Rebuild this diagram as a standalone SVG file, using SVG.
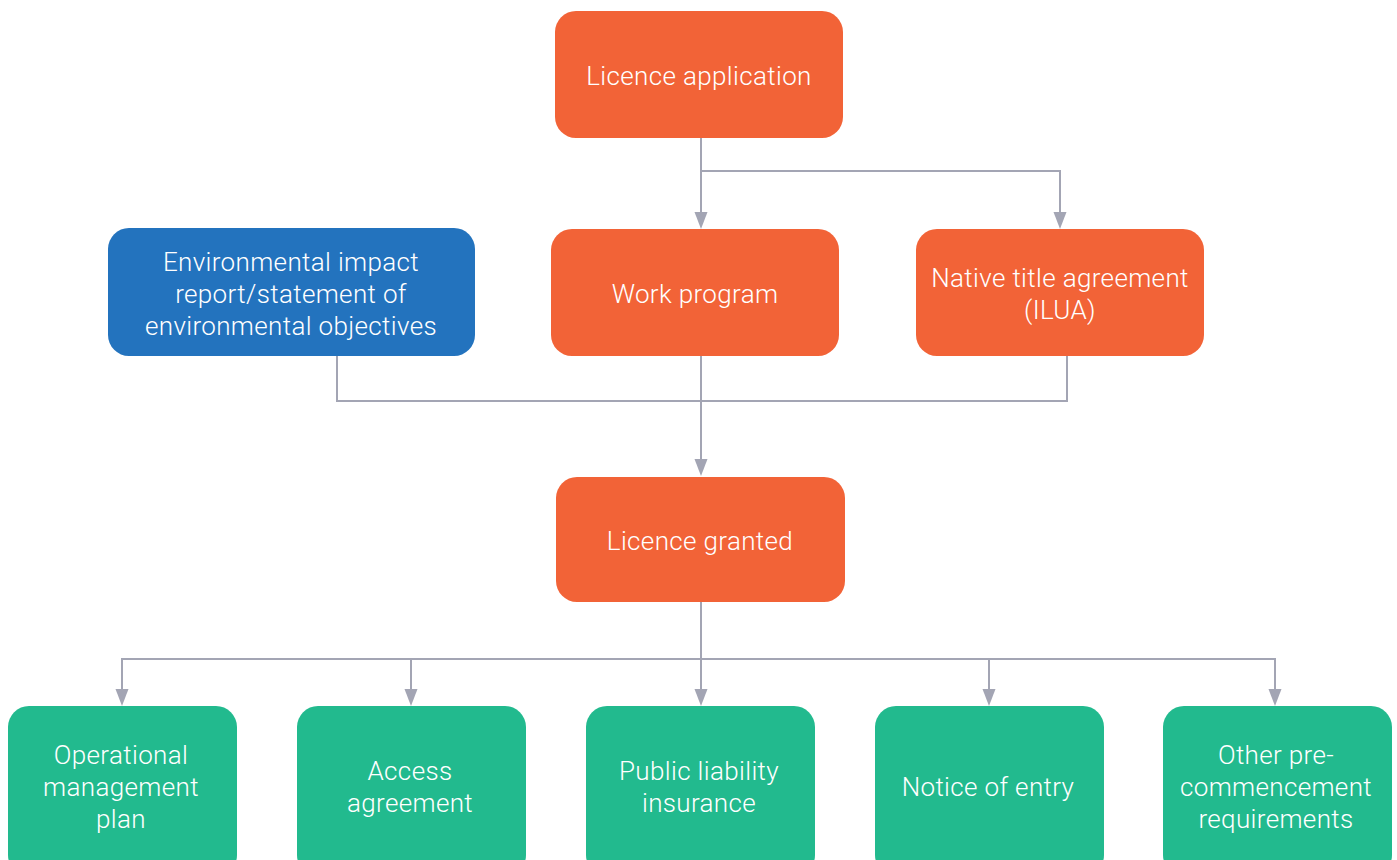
<svg xmlns="http://www.w3.org/2000/svg" width="1397" height="860" viewBox="0 0 1397 860">
  <style>
    .orange { fill: #F26337; }
    .blue { fill: #2373BE; }
    .green { fill: #22BA8E; }
    .label { fill: #FFFFFF; font-family: Roboto, "Liberation Sans", Arial, sans-serif; font-weight: 300; font-size: 26px; letter-spacing: 0.35px; text-anchor: middle; }
    .link { fill: none; stroke: #A3A5B4; stroke-width: 2; }
    .arrow { fill: #A3A5B4; }
  </style>
  <rect width="1397" height="860" fill="#FFFFFF"/>

  <!-- connectors -->
  <g id="connectors">
    <!-- licence application to work program and native title -->
    <path class="link" d="M701,138 V213"/>
    <path class="link" d="M701,171 H1060 V213"/>
    <!-- three inputs merging into licence granted -->
    <path class="link" d="M337,356 V401 H1067 V356"/>
    <path class="link" d="M701,356 V460"/>
    <!-- licence granted to pre-commencement items -->
    <path class="link" d="M701,602 V690"/>
    <path class="link" d="M122,690 V659 H1275 V690"/>
    <path class="link" d="M411,659 V690"/>
    <path class="link" d="M989,659 V690"/>
    <!-- arrowheads -->
    <path class="arrow" d="M694.5,212 H707.5 L701,229 Z"/>
    <path class="arrow" d="M1053.5,212 H1066.5 L1060,229 Z"/>
    <path class="arrow" d="M694.5,459 H707.5 L701,476 Z"/>
    <path class="arrow" d="M115.5,689 H128.5 L122,706 Z"/>
    <path class="arrow" d="M404.5,689 H417.5 L411,706 Z"/>
    <path class="arrow" d="M694.5,689 H707.5 L701,706 Z"/>
    <path class="arrow" d="M982.5,689 H995.5 L989,706 Z"/>
    <path class="arrow" d="M1268.5,689 H1281.5 L1275,706 Z"/>
  </g>

  <g id="licence-application">
    <rect class="orange" x="555" y="11" width="288" height="127" rx="21"/>
    <text class="label" x="699" y="85">Licence application</text>
  </g>

  <g id="environmental-impact">
    <rect class="blue" x="108" y="228" width="367" height="128" rx="21"/>
    <text class="label" x="291" y="271">Environmental impact</text>
    <text class="label" x="291" y="303">report/statement of</text>
    <text class="label" x="291" y="335">environmental objectives</text>
  </g>

  <g id="work-program">
    <rect class="orange" x="551" y="229" width="288" height="127" rx="21"/>
    <text class="label" x="695" y="303">Work program</text>
  </g>

  <g id="native-title">
    <rect class="orange" x="916" y="229" width="288" height="127" rx="21"/>
    <text class="label" x="1060" y="287">Native title agreement</text>
    <text class="label" x="1060" y="319">(ILUA)</text>
  </g>

  <g id="licence-granted">
    <rect class="orange" x="556" y="477" width="289" height="125" rx="21"/>
    <text class="label" x="700" y="550">Licence granted</text>
  </g>

  <g id="operational-management-plan">
    <rect class="green" x="8" y="706" width="229" height="170" rx="21"/>
    <text class="label" x="121" y="764">Operational</text>
    <text class="label" x="121" y="796">management</text>
    <text class="label" x="121" y="828">plan</text>
  </g>

  <g id="access-agreement">
    <rect class="green" x="297" y="706" width="229" height="170" rx="21"/>
    <text class="label" x="410" y="780">Access</text>
    <text class="label" x="410" y="812">agreement</text>
  </g>

  <g id="public-liability-insurance">
    <rect class="green" x="586" y="706" width="229" height="170" rx="21"/>
    <text class="label" x="699" y="780">Public liability</text>
    <text class="label" x="699" y="812">insurance</text>
  </g>

  <g id="notice-of-entry">
    <rect class="green" x="875" y="706" width="229" height="170" rx="21"/>
    <text class="label" x="988" y="796">Notice of entry</text>
  </g>

  <g id="other-requirements">
    <rect class="green" x="1163" y="706" width="229" height="170" rx="21"/>
    <text class="label" x="1276" y="764">Other pre-</text>
    <text class="label" x="1276" y="796">commencement</text>
    <text class="label" x="1276" y="828">requirements</text>
  </g>
</svg>
